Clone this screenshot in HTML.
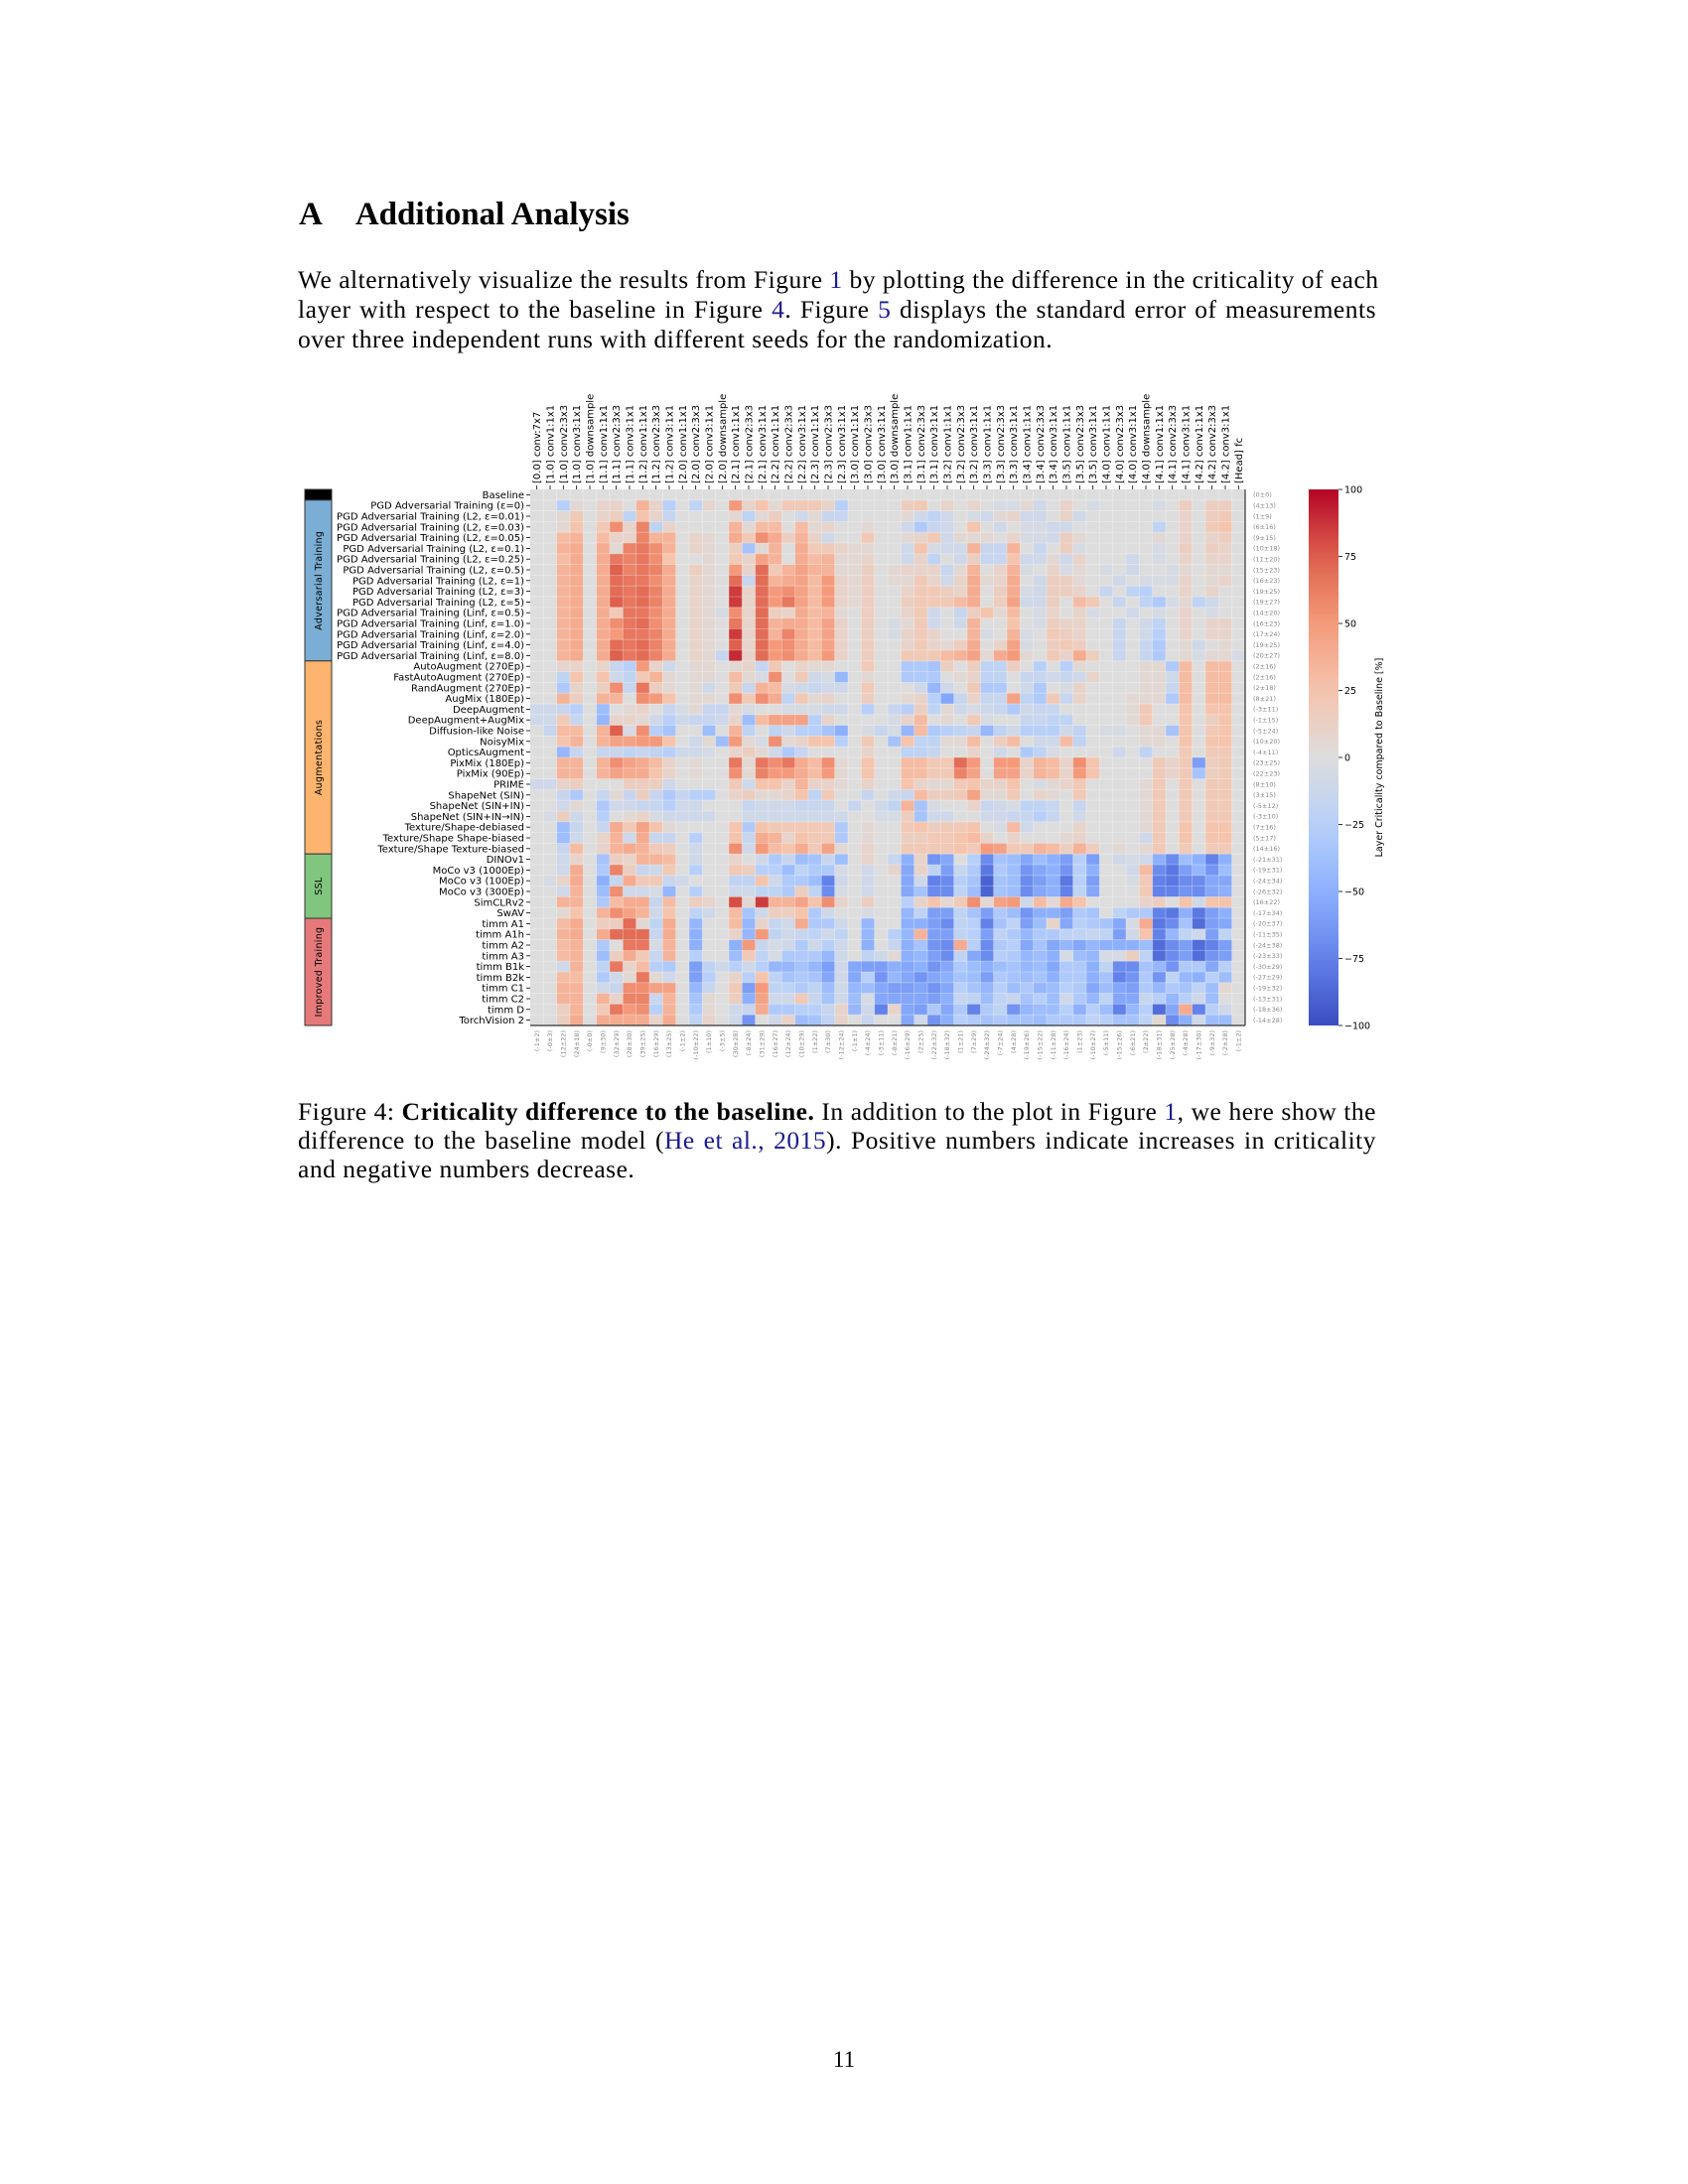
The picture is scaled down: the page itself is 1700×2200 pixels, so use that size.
<!DOCTYPE html>
<html><head><meta charset="utf-8">
<style>
html,body{margin:0;padding:0;background:#fff;}
body{width:1700px;height:2200px;position:relative;overflow:hidden;font-family:"Liberation Serif",serif;color:#000;}
.t{position:absolute;left:300px;width:1086px;font-size:25.5px;letter-spacing:0.5px;line-height:29.7px;text-align:justify;text-align-last:justify;white-space:nowrap;}
.last{text-align-last:left;}
a{color:#1a1a8c;text-decoration:none;}
svg{position:absolute;left:0;top:0;}
</style></head>
<body>
<div style="position:absolute;left:301px;top:198px;font-size:33px;font-weight:bold;white-space:nowrap;">A<span style="display:inline-block;width:33px"></span>Additional Analysis</div>
<div>
<div class="t" style="top:267px">We alternatively visualize the results from Figure <a>1</a> by plotting the difference in the criticality of each</div>
<div class="t" style="top:297px">layer with respect to the baseline in Figure <a>4</a>. Figure <a>5</a> displays the standard error of measurements</div>
<div class="t last" style="top:327px">over three independent runs with different seeds for the randomization.</div>
</div>
<div>
<div class="t" style="top:1105px">Figure 4: <b>Criticality difference to the baseline.</b> In addition to the plot in Figure <a>1</a>, we here show the</div>
<div class="t" style="top:1134px">difference to the baseline model (<a>He et al., 2015</a>). Positive numbers indicate increases in criticality</div>
<div class="t last" style="top:1163px">and negative numbers decrease.</div>
</div>
<div style="position:absolute;left:0;width:1700px;top:2062px;text-align:center;font-size:23px;">11</div>

<svg id="chart" width="1700" height="2200" xmlns="http://www.w3.org/2000/svg" font-family="DejaVu Sans, Liberation Sans, sans-serif"></svg>

<script>
const layers = ["[0.0] conv:7x7","[1.0] conv1:1x1","[1.0] conv2:3x3","[1.0] conv3:1x1","[1.0] downsample","[1.1] conv1:1x1","[1.1] conv2:3x3","[1.1] conv3:1x1","[1.2] conv1:1x1","[1.2] conv2:3x3","[1.2] conv3:1x1","[2.0] conv1:1x1","[2.0] conv2:3x3","[2.0] conv3:1x1","[2.0] downsample","[2.1] conv1:1x1","[2.1] conv2:3x3","[2.1] conv3:1x1","[2.2] conv1:1x1","[2.2] conv2:3x3","[2.2] conv3:1x1","[2.3] conv1:1x1","[2.3] conv2:3x3","[2.3] conv3:1x1","[3.0] conv1:1x1","[3.0] conv2:3x3","[3.0] conv3:1x1","[3.0] downsample","[3.1] conv1:1x1","[3.1] conv2:3x3","[3.1] conv3:1x1","[3.2] conv1:1x1","[3.2] conv2:3x3","[3.2] conv3:1x1","[3.3] conv1:1x1","[3.3] conv2:3x3","[3.3] conv3:1x1","[3.4] conv1:1x1","[3.4] conv2:3x3","[3.4] conv3:1x1","[3.5] conv1:1x1","[3.5] conv2:3x3","[3.5] conv3:1x1","[4.0] conv1:1x1","[4.0] conv2:3x3","[4.0] conv3:1x1","[4.0] downsample","[4.1] conv1:1x1","[4.1] conv2:3x3","[4.1] conv3:1x1","[4.2] conv1:1x1","[4.2] conv2:3x3","[4.2] conv3:1x1","[Head] fc"];
const models = ["Baseline","PGD Adversarial Training (\u03b5=0)","PGD Adversarial Training (L2, \u03b5=0.01)","PGD Adversarial Training (L2, \u03b5=0.03)","PGD Adversarial Training (L2, \u03b5=0.05)","PGD Adversarial Training (L2, \u03b5=0.1)","PGD Adversarial Training (L2, \u03b5=0.25)","PGD Adversarial Training (L2, \u03b5=0.5)","PGD Adversarial Training (L2, \u03b5=1)","PGD Adversarial Training (L2, \u03b5=3)","PGD Adversarial Training (L2, \u03b5=5)","PGD Adversarial Training (Linf, \u03b5=0.5)","PGD Adversarial Training (Linf, \u03b5=1.0)","PGD Adversarial Training (Linf, \u03b5=2.0)","PGD Adversarial Training (Linf, \u03b5=4.0)","PGD Adversarial Training (Linf, \u03b5=8.0)","AutoAugment (270Ep)","FastAutoAugment (270Ep)","RandAugment (270Ep)","AugMix (180Ep)","DeepAugment","DeepAugment+AugMix","Diffusion-like Noise","NoisyMix","OpticsAugment","PixMix (180Ep)","PixMix (90Ep)","PRIME","ShapeNet (SIN)","ShapeNet (SIN+IN)","ShapeNet (SIN+IN\u2192IN)","Texture/Shape-debiased","Texture/Shape Shape-biased","Texture/Shape Texture-biased","DINOv1","MoCo v3 (1000Ep)","MoCo v3 (100Ep)","MoCo v3 (300Ep)","SimCLRv2","SwAV","timm A1","timm A1h","timm A2","timm A3","timm B1k","timm B2k","timm C1","timm C2","timm D","TorchVision 2"];
const rowStats = ["(0\u00b10)","(4\u00b113)","(1\u00b19)","(6\u00b116)","(9\u00b115)","(10\u00b118)","(11\u00b120)","(15\u00b123)","(16\u00b123)","(19\u00b125)","(19\u00b127)","(14\u00b120)","(16\u00b123)","(17\u00b124)","(19\u00b125)","(20\u00b127)","(2\u00b116)","(2\u00b116)","(2\u00b118)","(8\u00b121)","(-3\u00b111)","(-1\u00b115)","(-5\u00b124)","(10\u00b120)","(-4\u00b111)","(23\u00b125)","(22\u00b123)","(8\u00b110)","(3\u00b115)","(-5\u00b112)","(-3\u00b110)","(7\u00b116)","(5\u00b117)","(14\u00b116)","(-21\u00b131)","(-19\u00b131)","(-24\u00b134)","(-26\u00b132)","(16\u00b122)","(-17\u00b134)","(-20\u00b137)","(-11\u00b135)","(-24\u00b138)","(-23\u00b133)","(-30\u00b129)","(-27\u00b129)","(-19\u00b132)","(-13\u00b131)","(-18\u00b136)","(-14\u00b128)"];
const colStats = ["(-1\u00b12)","(-0\u00b13)","(12\u00b122)","(24\u00b118)","(-0\u00b10)","(9\u00b130)","(32\u00b129)","(28\u00b130)","(39\u00b125)","(16\u00b129)","(13\u00b125)","(-1\u00b12)","(-10\u00b122)","(1\u00b110)","(-3\u00b15)","(30\u00b128)","(-8\u00b124)","(31\u00b129)","(16\u00b127)","(12\u00b124)","(10\u00b129)","(1\u00b122)","(7\u00b130)","(-12\u00b124)","(-1\u00b11)","(-4\u00b124)","(-3\u00b111)","(-8\u00b121)","(-16\u00b129)","(2\u00b125)","(-22\u00b132)","(-18\u00b132)","(1\u00b121)","(7\u00b129)","(-24\u00b132)","(-7\u00b124)","(4\u00b128)","(-19\u00b126)","(-15\u00b122)","(-11\u00b128)","(-16\u00b124)","(1\u00b123)","(-10\u00b127)","(-5\u00b111)","(-15\u00b126)","(-6\u00b121)","(2\u00b122)","(-18\u00b131)","(-25\u00b128)","(-4\u00b128)","(-17\u00b130)","(-9\u00b132)","(-2\u00b128)","(-1\u00b12)"];
const groupNames = ["","Adversarial Training","Augmentations","SSL","Improved Training"];
const groupSizes = [1,15,18,6,10];
const colorbarTicks = [100,75,50,25,0,-25,-50,-75,-100];
const values = [
[0,0,0,0,0,0,0,0,0,0,0,0,0,0,0,0,0,0,0,0,0,0,0,0,0,0,0,0,0,0,0,0,0,0,0,0,0,0,0,0,0,0,0,0,0,0,0,0,0,0,0,0,0,0],
[0,0,-25,5,0,10,10,0,35,10,-25,0,-20,8,0,50,10,25,5,20,20,20,10,-25,0,0,0,0,15,20,0,10,0,8,0,-5,-5,5,-10,0,10,0,-5,0,0,0,0,-5,0,15,0,15,15,0],
[0,0,5,20,0,10,15,-20,25,10,-15,0,0,0,0,5,-20,5,15,0,-10,5,-15,-15,0,0,0,0,5,-10,-20,-10,0,-5,-10,5,10,-10,-10,0,10,-10,0,0,0,0,0,0,0,10,0,15,20,0],
[0,0,5,25,0,20,55,10,60,-20,10,0,0,0,0,35,5,30,30,0,30,5,10,0,0,5,0,0,-10,-30,-15,-10,0,25,0,-10,0,-5,-5,-10,-10,0,0,0,0,0,0,-20,0,10,0,20,25,0],
[0,0,30,35,0,30,10,10,60,35,35,0,10,5,0,40,20,55,40,15,35,10,-10,0,0,20,0,0,5,10,20,-10,5,5,5,0,10,-5,-5,-10,15,5,0,0,0,0,0,5,0,10,0,10,15,0],
[0,0,35,40,0,40,5,60,65,55,35,0,10,5,0,15,-35,5,35,0,40,20,20,10,5,5,0,0,-10,25,-5,-10,-10,35,-15,-15,35,0,-15,0,15,-5,0,0,0,0,0,-5,0,15,0,15,10,0],
[0,0,30,40,0,40,65,60,65,55,25,0,0,5,0,20,10,45,35,0,40,30,35,5,5,10,0,0,-10,10,-20,0,-10,15,-15,-15,25,-10,-10,5,-10,10,0,0,0,-10,0,-5,0,10,0,10,10,0],
[0,0,35,40,0,40,75,60,65,60,40,0,15,5,0,50,10,70,20,35,45,35,35,5,5,15,0,5,10,10,10,-15,5,35,0,10,35,-5,0,10,-5,5,0,-5,0,-10,0,0,-5,5,0,5,5,0],
[0,0,35,40,0,40,70,65,65,55,40,0,10,5,0,70,-15,70,35,40,45,30,50,10,5,15,0,5,5,20,10,-10,10,40,5,10,40,0,-10,15,15,5,0,0,-10,0,-5,-5,-5,10,0,5,10,0],
[0,0,35,40,0,40,70,65,70,60,40,0,10,5,0,85,10,70,50,55,45,30,50,10,5,15,0,0,10,20,20,15,10,40,0,15,40,-5,-10,15,15,10,0,-15,0,-20,-25,0,0,10,0,10,0,0],
[0,0,35,40,0,40,75,65,70,60,40,0,10,5,0,85,10,70,50,65,45,30,50,10,5,15,0,0,15,20,20,20,30,40,0,15,45,-10,-10,15,0,30,20,0,-15,0,-20,-30,-5,5,-20,-10,0,0],
[0,0,35,40,0,40,20,65,65,55,40,0,10,5,-5,55,10,70,15,10,40,30,35,5,0,15,0,0,10,20,-10,0,-15,15,25,5,30,0,-5,10,0,10,-5,0,0,-10,0,-5,0,10,0,-5,0,0],
[0,0,35,40,0,40,55,65,70,55,40,0,10,5,0,65,10,70,35,40,40,30,45,10,0,15,0,-5,5,20,-10,0,-10,35,0,0,25,0,-5,15,10,10,0,0,-15,0,-10,-20,0,10,0,10,10,0],
[0,0,35,40,0,40,50,65,65,60,40,0,10,5,0,85,10,70,35,60,40,30,45,10,0,15,0,-5,10,20,10,0,0,35,-5,0,35,-5,0,20,15,10,0,0,-15,0,-10,-25,0,10,0,10,10,0],
[0,0,35,40,0,40,70,65,70,60,40,0,10,5,0,75,10,70,50,55,40,30,45,10,0,15,0,0,10,20,10,5,15,40,0,10,45,-5,0,15,20,15,0,0,-15,0,-15,-30,0,5,-10,0,5,0],
[0,0,35,40,0,40,75,65,70,60,40,0,10,5,-15,90,10,70,50,55,40,30,50,10,0,15,0,0,20,20,20,30,35,45,5,40,50,5,0,20,10,40,15,0,-15,0,-15,-30,0,5,-5,5,5,-5],
[0,0,8,10,0,10,-15,-25,50,10,-10,0,5,5,0,5,10,-15,20,0,10,5,5,0,0,20,0,0,-30,-30,-35,15,0,15,-20,-20,15,0,-25,0,-25,5,0,0,0,0,5,5,-30,30,0,30,30,0],
[0,0,-20,25,0,25,-10,-20,20,35,5,0,5,5,0,30,5,-5,55,0,20,-10,-5,-45,0,5,0,0,-30,-30,-30,0,5,10,-20,-20,0,-15,-15,-10,-15,-10,10,0,0,0,5,5,-10,30,0,30,30,0],
[0,0,-30,10,0,15,55,-15,65,15,5,0,5,-10,0,20,-15,35,30,-5,-10,-15,-10,-10,0,20,0,0,0,-10,-45,-10,0,20,-30,-30,0,-10,-30,0,-5,10,0,0,0,0,5,5,-15,30,0,30,30,0],
[0,0,35,15,0,35,35,0,55,50,25,0,5,5,0,55,20,55,40,-20,20,5,10,0,0,15,0,0,5,10,-25,-55,-15,10,-15,-15,45,-20,-30,20,-15,10,0,0,0,5,5,5,-30,30,0,30,30,0],
[-10,-10,-15,-25,0,-40,0,5,10,0,-15,-5,5,-15,-15,5,-5,0,0,-5,-5,-5,-10,-10,0,-25,0,-15,-25,15,-20,5,-10,-5,-10,-15,-30,-10,-15,-15,0,0,0,0,0,5,20,0,0,25,0,25,25,0],
[-10,-10,20,-15,0,-45,10,10,5,-10,-25,-10,-15,-15,-10,10,-40,30,45,45,45,-25,10,0,0,0,0,-5,10,30,0,5,0,20,-5,0,0,-15,-15,-20,-20,0,0,0,0,5,20,0,0,25,0,15,25,0],
[0,-15,30,30,0,35,75,-5,55,-25,-35,0,0,-40,0,35,-20,0,-20,-10,-25,-25,-35,-50,0,-5,-15,-5,-45,30,-30,-25,-20,-15,-45,-20,-10,-25,-25,-25,-10,-20,0,-5,-5,0,5,5,-35,25,0,20,25,0],
[0,0,25,35,0,35,45,45,50,50,25,0,-10,5,-40,50,5,-5,55,5,10,25,25,-25,0,20,0,-35,25,-20,-20,5,5,30,0,15,30,0,-10,-10,30,-20,0,0,0,0,5,5,0,25,0,25,25,0],
[0,0,-45,-15,0,-15,-15,-20,-15,-20,-25,-10,-10,-5,0,10,15,5,-10,-30,-15,0,0,0,0,10,0,0,-20,-20,-15,0,0,10,0,-10,0,-30,-20,-5,0,0,0,0,-10,0,-20,0,0,20,0,20,20,0],
[0,0,35,35,0,35,55,45,40,30,10,0,5,0,0,65,5,65,55,65,40,30,55,5,0,25,0,0,30,30,20,20,70,50,0,50,50,10,35,30,10,55,25,0,0,0,0,20,10,20,-60,15,20,0],
[0,0,35,35,0,35,45,40,40,25,10,0,5,0,0,55,5,60,50,50,40,30,50,5,0,25,0,0,30,30,20,20,60,45,0,45,45,10,35,30,10,50,25,0,0,0,0,20,10,20,-35,15,20,0],
[-10,-10,10,15,0,0,0,15,15,15,-10,0,0,0,0,20,-10,25,25,10,35,10,10,5,0,10,0,0,25,10,5,5,20,25,10,10,25,0,-5,5,10,20,0,0,0,0,5,20,0,20,0,20,20,0],
[0,0,-15,-30,0,-15,5,-15,15,-15,-30,-15,-25,-25,0,10,15,5,5,10,25,-20,20,0,0,-15,0,-10,-15,30,15,15,20,45,5,5,20,0,10,5,0,20,0,0,0,0,5,20,0,20,0,20,20,0],
[0,0,-10,5,0,-30,-10,-10,-15,-15,-25,-10,-10,0,0,0,-15,-10,-10,-10,-15,-15,-15,0,-15,0,-10,-20,35,-35,-5,0,0,10,-15,-10,-5,-20,-20,-15,0,-15,0,0,0,0,5,20,0,20,0,20,20,0],
[0,-5,15,-10,0,-25,0,5,10,-5,-10,-10,-10,-10,0,0,-10,-10,-10,-10,-10,-10,-10,-10,0,0,-5,-5,15,-35,-10,-10,0,0,-10,-10,-15,-15,-25,-15,0,-10,0,0,0,0,5,20,0,20,0,20,20,0],
[0,0,-40,-15,0,-15,40,20,45,25,5,0,0,0,0,25,-30,25,20,20,20,20,20,-30,0,5,0,0,20,25,15,20,20,25,0,-5,30,-10,0,0,0,10,0,0,0,0,5,20,0,25,0,25,25,0],
[0,0,-40,-10,0,10,35,-10,40,-15,-15,0,-25,0,0,25,-15,40,35,10,25,20,20,-30,0,5,0,0,15,15,20,20,25,30,10,0,10,0,0,0,5,10,0,0,0,0,-10,20,0,25,0,25,25,0],
[0,0,-15,30,0,10,35,40,35,20,15,0,-10,0,0,55,-10,50,30,25,40,20,45,5,0,10,0,0,20,20,20,20,25,20,50,45,20,20,35,30,15,35,15,0,5,0,5,20,0,20,0,20,20,0],
[0,0,-10,10,0,-35,15,10,35,35,30,0,-10,0,0,10,0,-10,-30,-15,-40,-35,-15,-40,0,10,0,-15,-50,10,-65,-55,0,-25,-70,-35,-40,-55,-40,-50,-60,-25,-60,0,-10,-5,-10,-50,-70,-40,-50,-75,-50,0],
[0,0,-10,40,0,-30,60,15,-15,-10,20,0,-25,0,0,20,15,-25,-25,-40,-20,-30,-30,-5,0,-10,0,10,-55,10,-20,-60,-15,-30,-80,-30,-40,-65,-55,-50,-65,-25,-50,0,0,-10,30,-70,-80,-60,-45,-65,-40,0],
[0,-5,10,40,0,-50,-15,40,20,20,-15,-10,0,0,0,-20,-20,25,-10,-30,-30,-40,-75,-10,0,-10,0,0,-55,-10,-75,-70,-25,-35,-90,-35,-40,-70,-60,-50,-80,-25,-60,0,0,-5,20,-75,-80,-70,-70,-55,-55,0],
[0,0,-10,35,0,-40,55,-10,-10,-5,-45,0,-25,0,0,-10,-10,-20,-20,-30,15,-20,-70,-5,0,-10,0,0,-55,-35,-70,-70,-20,-40,-90,-35,-40,-70,-55,-50,-75,-20,-55,0,0,0,20,-75,-75,-65,-70,-55,-50,0],
[0,0,35,35,0,-30,30,40,40,-15,30,0,15,10,0,80,5,85,35,35,45,25,55,10,0,15,0,0,-25,10,25,5,20,55,5,45,50,-10,30,5,40,25,0,0,0,0,10,15,0,25,-10,25,25,0],
[0,0,5,25,0,35,55,45,35,-10,25,0,-20,-10,0,30,-35,-10,15,15,25,-30,-10,0,0,-5,0,0,-45,-20,-60,-60,-20,-35,-60,-30,-40,-65,-50,-50,-60,-30,-35,0,-20,-30,-30,-75,-80,-50,-80,-60,-50,0],
[0,0,30,40,0,15,15,70,5,-20,40,0,-45,0,0,30,-45,10,-15,-10,40,-30,-30,-10,0,-45,0,0,-50,-50,-60,-70,-20,-25,-75,-35,-20,-60,-40,10,-55,-25,-30,-35,-55,-5,40,-80,-70,-35,-85,-60,-55,0],
[0,0,35,40,0,40,70,70,70,-15,40,0,-50,0,0,10,-45,50,-20,-10,-15,-20,-10,-20,0,-45,0,-25,-45,35,-60,-60,-20,-25,-60,-20,-30,-45,-30,-30,-20,-20,-15,-20,-60,-10,25,-75,-45,-20,-10,-60,-20,0],
[0,0,30,35,0,-30,0,65,65,-5,35,0,-50,0,0,-50,50,-15,-5,-10,-30,-10,-25,-10,0,-50,0,-15,-50,-35,-65,-70,40,-25,-70,-30,-25,-55,-35,-55,-45,-55,-45,-50,-50,-50,-40,-85,-70,-60,-85,-75,-60,0],
[0,0,30,35,0,-40,15,40,20,-15,35,0,-25,0,0,-40,20,-20,-5,-30,-30,-30,-45,-10,0,-20,-10,5,-50,-45,-60,-70,-20,-55,-70,-25,-30,-45,-40,-50,-5,-40,-45,-5,-5,15,-20,-85,-70,-60,-85,-65,-60,0],
[0,0,-10,35,0,-20,65,10,30,-25,-30,0,-60,-20,-10,-25,-10,-25,-45,-45,-35,-45,-60,-10,-55,-60,-60,-50,-55,-50,-65,-55,-30,-40,-50,-40,-35,-45,-40,-55,-30,-30,-50,-20,-70,-70,-35,-45,-65,-30,-30,-55,-25,0],
[0,0,30,30,0,-30,-10,5,65,5,-10,0,-60,-25,0,10,-25,25,-20,-35,-30,-35,-55,-10,-55,-25,-65,-45,-55,-65,-55,-50,-35,-40,-60,-30,-35,-40,-35,-50,-30,-30,-50,-35,-75,-65,-30,-65,-20,-45,-50,-25,-40,0],
[0,0,35,35,0,-10,-15,55,55,45,45,0,-45,-15,0,20,-60,50,-20,-20,-30,-20,-40,-10,-45,-40,-55,-60,-60,-55,-65,-55,-25,-35,-45,-25,-40,-30,-45,-40,-25,-30,-55,-40,-55,-60,-30,-45,-30,-35,-20,-40,5,0],
[0,0,35,35,0,35,10,60,60,-15,35,0,-35,5,0,15,-50,45,-10,-10,20,-15,-35,-10,-40,-5,-55,-55,-55,-55,-60,-50,-15,-20,-40,-20,-15,-35,-25,-40,-10,-30,-45,-20,-55,-55,-15,-25,-45,-25,-10,-40,0,0],
[0,0,15,35,0,20,65,50,55,-25,35,0,-30,5,0,-10,-15,40,-30,-30,-25,-25,-15,10,-45,-10,-75,10,-55,-60,-30,-55,-30,-75,-30,-20,-65,-45,-40,-40,-25,-50,-25,-40,-75,-45,-25,-85,-55,40,-75,-25,-10,0],
[0,0,15,40,0,40,40,40,40,10,40,0,-20,10,0,-10,-65,0,-10,10,-40,-35,-20,10,0,-15,0,0,-55,-10,-65,-50,-25,-30,-35,-30,-35,-35,-40,-30,-30,-30,-20,-25,-35,-35,-20,5,-70,-50,-10,-40,-40,0]
];

const NS = "http://www.w3.org/2000/svg";
const svg = document.getElementById('chart');
const X0 = 534, Y0 = 493, X1 = 1254, Y1 = 1033;
const CW = (X1 - X0) / layers.length, RH = (Y1 - Y0) / models.length;
const xPos = i => X0 + i * CW;
const yPos = r => Y0 + r * RH;
const VMIN = -100, VMAX = 100;
const CB = {x: 1318, w: 30, y0: Y0, y1: Y1};
const cbY = v => CB.y0 + (VMAX - v) / (VMAX - VMIN) * (CB.y1 - CB.y0);
const stops = [[0,59,76,192],[0.125,98,130,234],[0.25,141,176,254],[0.375,184,208,249],[0.5,221,221,221],[0.625,245,196,173],[0.75,244,154,123],[0.875,222,96,77],[1,180,4,38]];
function cmap(v){
  let t = Math.max(0, Math.min(1, (v - VMIN) / (VMAX - VMIN)));
  for (let k = 1; k < stops.length; k++) {
    if (t <= stops[k][0]) {
      const a = stops[k-1], b = stops[k], f = (t - a[0]) / (b[0] - a[0]);
      return 'rgb(' + [1,2,3].map(j => Math.round(a[j] + f * (b[j] - a[j]))).join(',') + ')';
    }
  }
  return 'rgb(180,4,38)';
}
function mk(tag, attrs, parent){
  const e = document.createElementNS(NS, tag);
  for (const k in attrs) e.setAttribute(k, attrs[k]);
  (parent || svg).appendChild(e);
  return e;
}

const gCells = mk('g', {});


values.forEach((row, r) => {
  row.forEach((v, c) => {
    const rc = mk('rect', {x: xPos(c).toFixed(2), y: yPos(r).toFixed(2), width: (CW + 0.3).toFixed(2), height: (RH + 0.3).toFixed(2), fill: cmap(v)}, gCells);
    
    
  });
});
for (let c = 1; c < layers.length; c++) mk('line', {x1: xPos(c), x2: xPos(c), y1: Y0, y2: Y1, stroke: '#fff', 'stroke-opacity': 0.35, 'stroke-width': 0.8});
for (let r = 1; r < models.length; r++) mk('line', {x1: X0, x2: X1, y1: yPos(r), y2: yPos(r), stroke: '#fff', 'stroke-opacity': 0.35, 'stroke-width': 0.8});
mk('line', {x1: X0, x2: X1, y1: Y1, y2: Y1, stroke: '#333', 'stroke-width': 1.2});
mk('line', {x1: X1, x2: X1, y1: Y0, y2: Y1, stroke: '#333', 'stroke-width': 1.2});

layers.forEach((name, c) => {
  const cx = xPos(c) + CW / 2;
  mk('line', {x1: cx, x2: cx, y1: Y0 - 4, y2: Y0, stroke: '#000', 'stroke-width': 0.8});
  const t = mk('text', {x: 0, y: 0, transform: `translate(${(cx + 3.5).toFixed(2)},${Y0 - 6}) rotate(-90)`, 'font-size': 10, 'text-anchor': 'start', fill: '#000'});
  t.textContent = name;
  
  
  const s = mk('text', {x: 0, y: 0, transform: `translate(${(cx + 2.2).toFixed(2)},${Y1 + 5}) rotate(-90)`, 'font-size': 6.5, 'text-anchor': 'end', fill: '#888'});
  s.textContent = colStats[c];
  
  
});

models.forEach((name, r) => {
  const cy = yPos(r) + RH / 2;
  mk('line', {x1: X0 - 4, x2: X0, y1: cy, y2: cy, stroke: '#000', 'stroke-width': 0.8});
  const t = mk('text', {x: X0 - 6, y: cy + 3.5, 'font-size': 10, 'text-anchor': 'end', fill: '#000'});
  t.textContent = name;
  
  
  const s = mk('text', {x: X1 + 8, y: cy + 2.3, 'font-size': 6.5, fill: '#888'});
  s.textContent = rowStats[r];
  
  
});

const groupColors = ['#000000', 'rgb(122,174,212)', 'rgb(253,180,110)', 'rgb(128,198,126)', 'rgb(230,122,122)'];
let acc = 0;
groupSizes.forEach((n, g) => {
  const y = yPos(acc), h = n * RH;
  const rc = mk('rect', {x: 307, y: y, width: 27, height: h, fill: groupColors[g], stroke: '#333', 'stroke-width': 1});
  
  
  if (groupNames[g]) {
    const t = mk('text', {x: 0, y: 0, transform: `translate(${324},${(y + h / 2).toFixed(2)}) rotate(-90)`, 'font-size': 9.5, 'text-anchor': 'middle', fill: '#000', 'letter-spacing': 0.3});
    t.textContent = groupNames[g];
    
    
  }
  acc += n;
});

const defs = mk('defs', {});
const lg = mk('linearGradient', {id: 'cbg', x1: 0, y1: 1, x2: 0, y2: 0}, defs);
for (let k = 0; k <= 20; k++) mk('stop', {offset: k / 20, 'stop-color': cmap(VMIN + k / 20 * (VMAX - VMIN))}, lg);
const cbr = mk('rect', {x: CB.x, y: CB.y0, width: CB.w, height: CB.y1 - CB.y0, fill: 'url(#cbg)'});


colorbarTicks.forEach(v => {
  const y = cbY(v);
  mk('line', {x1: CB.x + CB.w, x2: CB.x + CB.w + 4, y1: y, y2: y, stroke: '#000', 'stroke-width': 0.8});
  const t = mk('text', {x: CB.x + CB.w + 6, y: y + 3.5, 'font-size': 9.5, fill: '#000'});
  t.textContent = v < 0 ? '\u2212' + Math.abs(v) : String(v);
  
  
});
const cbt = mk('text', {x: 0, y: 0, transform: `translate(1392,${(CB.y0 + CB.y1) / 2}) rotate(-90)`, 'font-size': 9.5, 'text-anchor': 'middle', fill: '#000'});
cbt.textContent = 'Layer Criticality compared to Baseline [%]';


</script>
</body></html>
